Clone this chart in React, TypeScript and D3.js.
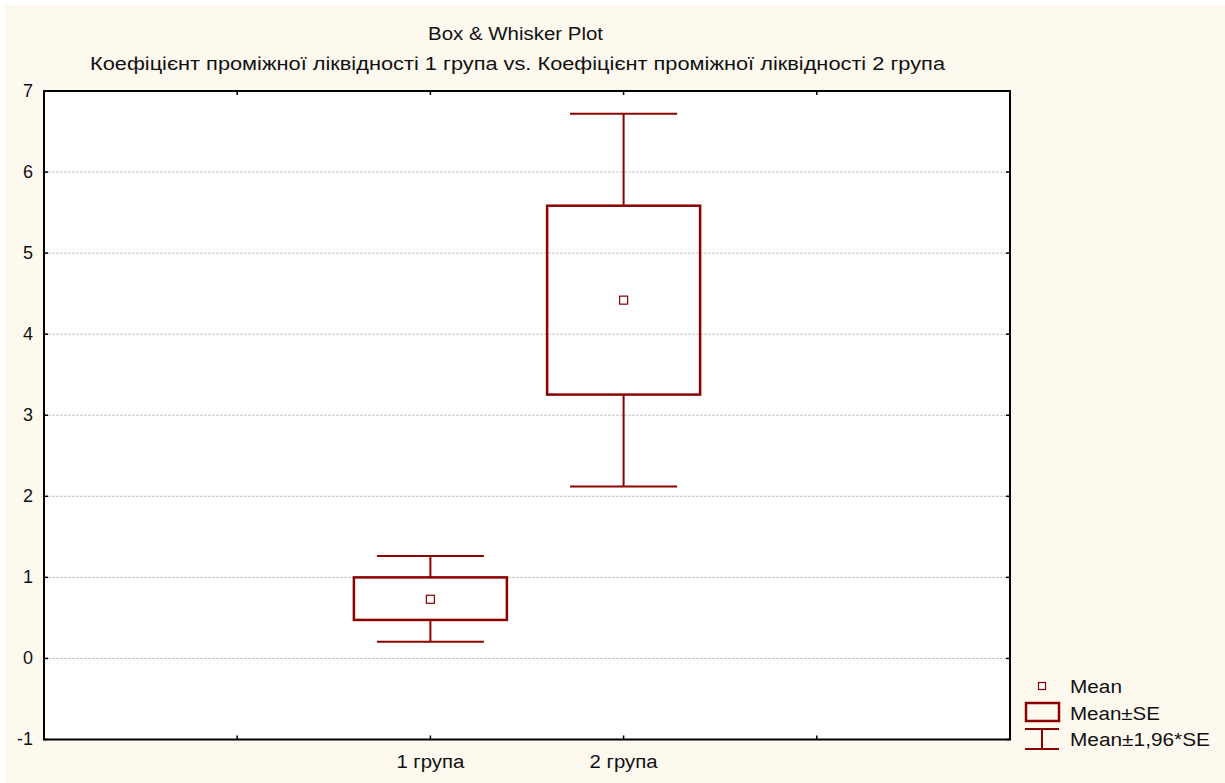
import React from "react";
import * as d3 from "d3";

const categories = ["1 група", "2 група"];
const means = [0.73, 4.42];
const seLow = [0.475, 3.255];
const seHigh = [1.0, 5.585];
const ciLow = [0.205, 2.12];
const ciHigh = [1.265, 6.72];
const yTicks = [-1, 0, 1, 2, 3, 4, 5, 6, 7];
const xTickPositions = [1, 2, 3, 4];
const legendLabels = ["Mean", "Mean±SE", "Mean±1,96*SE"];
const legendWidths = [52, 90, 140];

const W = 1225;
const H = 783;
const M = { left: 44, right: 1010, top: 91, bottom: 739.5 };
const RED = "#8B0000";
const FONT = "'Liberation Sans', Arial, sans-serif";
const TXT = "#111";

export default function App() {
  const x = d3.scaleLinear().domain([0, 5]).range([M.left, M.right]);
  const y = d3.scaleLinear().domain([-1, 7]).range([M.bottom, M.top]);
  const catPos = [2, 3];
  const boxHalf = 76.5;
  const capHalf = 53.5;

  return (
    <svg width={W} height={H} style={{ position: "absolute", left: 0, top: 0, display: "block" }} fontFamily={FONT}>
      <rect x={0} y={0} width={W} height={H} fill="#ffffff" />
      <rect x={5} y={5} width={W - 5} height={H - 5} fill="#FDF9EF" />
      <text x={428} y={40} fontSize={17.5} fill={TXT} textLength={175} lengthAdjust="spacingAndGlyphs">Box &amp; Whisker Plot</text>
      <text x={90} y={70} fontSize={17.5} fill={TXT} textLength={855} lengthAdjust="spacingAndGlyphs">
        Коефіцієнт проміжної ліквідності 1 група vs. Коефіцієнт проміжної ліквідності 2 група
      </text>
      <rect x={M.left} y={M.top} width={M.right - M.left} height={M.bottom - M.top} fill="#ffffff" />
      {yTicks.filter((t) => t > -1 && t < 7).map((t) => (
        <line key={"g" + t} x1={M.left} x2={M.right} y1={y(t)} y2={y(t)} stroke="#c8c8c8" strokeWidth={1} strokeDasharray="3,1" />
      ))}
      {yTicks.map((t) => (
        <g key={"yt" + t}>
          <line x1={M.left} x2={M.left + 4} y1={y(t)} y2={y(t)} stroke="#000" strokeWidth={1.5} />
          <line x1={M.right - 4} x2={M.right} y1={y(t)} y2={y(t)} stroke="#000" strokeWidth={1.5} />
          <text x={33} y={y(t) + 5.5} textAnchor="end" fontSize={18} fill={TXT}>{t}</text>
        </g>
      ))}
      {xTickPositions.map((t) => (
        <g key={"xt" + t}>
          <line x1={x(t)} x2={x(t)} y1={M.top} y2={M.top + 4} stroke="#000" strokeWidth={1.5} />
          <line x1={x(t)} x2={x(t)} y1={M.bottom - 4} y2={M.bottom} stroke="#000" strokeWidth={1.5} />
        </g>
      ))}
      {categories.map((c, i) => {
        const cx = x(catPos[i]);
        return (
          <g key={c}>
            <line x1={cx} x2={cx} y1={y(ciHigh[i])} y2={y(seHigh[i])} stroke={RED} strokeWidth={2} />
            <line x1={cx} x2={cx} y1={y(seLow[i])} y2={y(ciLow[i])} stroke={RED} strokeWidth={2} />
            <line x1={cx - capHalf} x2={cx + capHalf} y1={y(ciHigh[i])} y2={y(ciHigh[i])} stroke={RED} strokeWidth={2} />
            <line x1={cx - capHalf} x2={cx + capHalf} y1={y(ciLow[i])} y2={y(ciLow[i])} stroke={RED} strokeWidth={2} />
            <rect x={cx - boxHalf} y={y(seHigh[i])} width={boxHalf * 2} height={y(seLow[i]) - y(seHigh[i])} fill="none" stroke={RED} strokeWidth={2.5} />
            <rect x={cx - 4} y={y(means[i]) - 4} width={8} height={8} fill="#fff" stroke={RED} strokeWidth={1.2} />
            <text x={cx - 34} y={768} fontSize={18} fill={TXT} textLength={68} lengthAdjust="spacingAndGlyphs">{c}</text>
          </g>
        );
      })}
      <rect x={M.left} y={M.top} width={M.right - M.left} height={M.bottom - M.top} fill="none" stroke="#000" strokeWidth={2} />
      <g>
        <rect x={1038.5} y={682.5} width={7} height={7} fill="#fff" stroke={RED} strokeWidth={1.2} />
        <rect x={1026} y={703} width={33} height={18} fill="none" stroke={RED} strokeWidth={2.5} />
        <line x1={1025} x2={1059} y1={729} y2={729} stroke={RED} strokeWidth={2} />
        <line x1={1025} x2={1059} y1={749} y2={749} stroke={RED} strokeWidth={2} />
        <line x1={1042} x2={1042} y1={729} y2={749} stroke={RED} strokeWidth={2} />
        {legendLabels.map((l, i) => (
          <text key={l} x={1070} y={693 + i * 26.5} fontSize={18} fill={TXT} textLength={legendWidths[i]} lengthAdjust="spacingAndGlyphs">{l}</text>
        ))}
      </g>
    </svg>
  );
}
